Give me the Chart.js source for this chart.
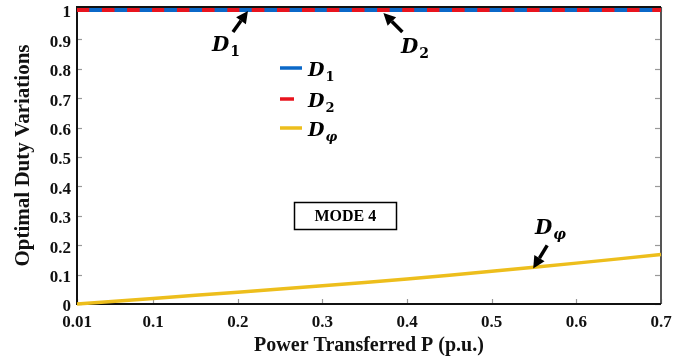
<!DOCTYPE html>
<html>
<head>
<meta charset="utf-8">
<script src="https://cdn.jsdelivr.net/npm/chart.js@4/dist/chart.umd.min.js"></script>
<style>
  html, body { margin: 0; padding: 0; background: #fff; }
  #wrap { width: 687px; height: 358px; }
</style>
</head>
<body>
<div id="wrap"><canvas id="dutyChart" width="687" height="358"></canvas></div>
<script>
// --- Data ---
const powerP = [0.01, 0.1, 0.2, 0.3, 0.4, 0.5, 0.6, 0.7];
const dutyD1 = [1, 1, 1, 1, 1, 1, 1, 1];
const dutyD2 = [1, 1, 1, 1, 1, 1, 1, 1];
const dutyDphi = [0, 0.019, 0.04, 0.062, 0.085, 0.111, 0.139, 0.168];
const xTickValues = [0.01, 0.1, 0.2, 0.3, 0.4, 0.5, 0.6, 0.7];
const yTickValues = [0, 0.1, 0.2, 0.3, 0.4, 0.5, 0.6, 0.7, 0.8, 0.9, 1];

const SERIF = '"Liberation Serif", "Times New Roman", serif';
const MATH = '"DejaVu Serif", serif';

const toPoints = (xs, ys) => xs.map((x, i) => ({ x, y: ys[i] }));

// D with a subscript, the way the figure labels the duties
function drawSubLabel(ctx, x, y, main, sub, size, subItalic) {
  ctx.textAlign = 'left';
  ctx.textBaseline = 'alphabetic';
  ctx.font = `italic bold ${size}px ${MATH}`;
  ctx.fillText(main, x, y);
  const w = ctx.measureText(main).width;
  ctx.font = `${subItalic ? 'italic ' : ''}bold ${Math.round(size * 0.68)}px ${MATH}`;
  ctx.fillText(sub, x + w + 1, y + size * 0.25);
}

function drawArrow(ctx, x0, y0, x1, y1) {
  const ang = Math.atan2(y1 - y0, x1 - x0);
  const head = 12, half = 6;
  const bx = x1 - head * Math.cos(ang), by = y1 - head * Math.sin(ang);
  ctx.strokeStyle = '#000';
  ctx.fillStyle = '#000';
  ctx.lineWidth = 3.5;
  ctx.beginPath();
  ctx.moveTo(x0, y0);
  ctx.lineTo(bx, by);
  ctx.stroke();
  ctx.beginPath();
  ctx.moveTo(x1, y1);
  ctx.lineTo(bx + half * Math.sin(ang), by - half * Math.cos(ang));
  ctx.lineTo(bx - half * Math.sin(ang), by + half * Math.cos(ang));
  ctx.closePath();
  ctx.fill();
}

// Box, inward tick marks (MATLAB style)
const framePlugin = {
  id: 'frame',
  beforeDatasetsDraw(chart) {
    const { ctx, chartArea: a, scales: { x, y } } = chart;
    ctx.save();
    ctx.lineWidth = 1.2;
    ctx.strokeStyle = '#999';
    yTickValues.forEach(v => {
      const py = Math.round(y.getPixelForValue(v)) + 0.5;
      ctx.beginPath(); ctx.moveTo(a.left, py); ctx.lineTo(a.left + 5, py); ctx.stroke();
      ctx.beginPath(); ctx.moveTo(a.right, py); ctx.lineTo(a.right - 6, py); ctx.stroke();
    });
    xTickValues.forEach(v => {
      const px = Math.round(x.getPixelForValue(v)) + 0.5;
      ctx.beginPath(); ctx.moveTo(px, a.bottom); ctx.lineTo(px, a.bottom - 5); ctx.stroke();
      ctx.beginPath(); ctx.moveTo(px, a.top); ctx.lineTo(px, a.top + 5); ctx.stroke();
    });
    ctx.lineWidth = 2;
    ctx.strokeStyle = '#555';
    ctx.beginPath(); ctx.moveTo(a.right, a.top); ctx.lineTo(a.right, a.bottom); ctx.stroke();
    ctx.strokeStyle = '#111';
    ctx.beginPath();
    ctx.moveTo(a.right, a.top); ctx.lineTo(a.left, a.top);
    ctx.lineTo(a.left, a.bottom); ctx.lineTo(a.right, a.bottom);
    ctx.stroke();
    ctx.restore();
  },
  afterDatasetsDraw(chart) {
    const { ctx, scales: { x, y } } = chart;
    const ds = chart.data.datasets;
    ctx.save();

    // legend without a box
    const legendX = 280, legendY = [68, 99, 128];
    const legendLen = [22, 14, 22];
    ds.forEach((d, i) => {
      ctx.strokeStyle = d.borderColor;
      ctx.lineWidth = 3.5;
      ctx.beginPath();
      ctx.moveTo(legendX, legendY[i]);
      ctx.lineTo(legendX + legendLen[i], legendY[i]);
      ctx.stroke();
      ctx.fillStyle = '#000';
      drawSubLabel(ctx, 308, legendY[i] + 8, 'D', d.sub, 19, d.sub === 'φ');
    });

    // pointers onto the curves
    let tx = x.getPixelForValue(0.212), ty = y.getPixelForValue(1);
    drawArrow(ctx, tx - 15, ty + 22, tx, ty + 1);
    drawSubLabel(ctx, 212, 51, 'D', '1', 20, false);

    tx = x.getPixelForValue(0.372);
    drawArrow(ctx, tx + 19, ty + 22, tx, ty + 3);
    drawSubLabel(ctx, 401, 53, 'D', '2', 20, false);

    tx = x.getPixelForValue(0.549); ty = y.getPixelForValue(0.121);
    drawArrow(ctx, tx + 14, ty - 23, tx, ty);
    drawSubLabel(ctx, 535, 234, 'D', 'φ', 20, true);

    // mode tag
    const cx = x.getPixelForValue(0.327), cy = y.getPixelForValue(0.3);
    ctx.lineWidth = 1.5;
    ctx.strokeStyle = '#000';
    ctx.strokeRect(Math.round(cx - 51) + 0.5, Math.round(cy - 14) + 0.5, 102, 27);
    ctx.fillStyle = '#000';
    ctx.font = `bold 16px ${SERIF}`;
    ctx.textAlign = 'center';
    ctx.textBaseline = 'middle';
    ctx.fillText('MODE 4', cx, cy + 1);
    ctx.restore();
  }
};

new Chart(document.getElementById('dutyChart'), {
  type: 'line',
  data: {
    datasets: [
      { label: 'D1', sub: '1', data: toPoints(powerP, dutyD1), borderColor: '#0B68C8', borderWidth: 4, order: 2 },
      { label: 'D2', sub: '2', data: toPoints(powerP, dutyD2), borderColor: '#E8141E', borderWidth: 4, borderDash: [12.5, 12.5], order: 1 },
      { label: 'Dphi', sub: 'φ', data: toPoints(powerP, dutyDphi), borderColor: '#EDBE1C', borderWidth: 3.5, order: 0 }
    ]
  },
  options: {
    responsive: false,
    animation: false,
    devicePixelRatio: 1,
    clip: false,
    elements: { point: { radius: 0 }, line: { tension: 0.3, capBezierPoints: true } },
    layout: { padding: { left: 0, right: 26, top: 7, bottom: 0 } },
    plugins: { legend: { display: false }, tooltip: { enabled: false } },
    scales: {
      x: {
        type: 'linear',
        min: 0.01,
        max: 0.7,
        afterBuildTicks: s => { s.ticks = xTickValues.map(v => ({ value: v })); },
        afterFit: s => { s.height = 54; s.paddingLeft = 0; s.paddingRight = 0; },
        grid: { display: false, drawTicks: false },
        border: { display: false },
        ticks: {
          padding: 8,
          color: '#111',
          font: { family: SERIF, size: 17, weight: 'bold' },
          maxRotation: 0,
          callback: v => (v === 0.01 ? '0.01' : v.toFixed(1))
        },
        title: {
          display: true,
          text: 'Power Transferred P (p.u.)',
          color: '#111',
          font: { family: SERIF, size: 20, weight: 'bold' },
          padding: { top: 2, bottom: 0 }
        }
      },
      y: {
        min: 0,
        max: 1.01,
        afterBuildTicks: s => { s.ticks = yTickValues.map(v => ({ value: v })); },
        afterFit: s => { s.width = 77; s.paddingTop = 0; s.paddingBottom = 0; },
        grid: { display: false, drawTicks: false },
        border: { display: false },
        ticks: {
          padding: 6,
          labelOffset: 3,
          color: '#111',
          font: { family: SERIF, size: 17, weight: 'bold' },
          callback: v => String(Math.round(v * 10) / 10)
        },
        title: {
          display: true,
          text: 'Optimal Duty Variations',
          color: '#111',
          font: { family: SERIF, size: 21, weight: 'bold' },
          padding: { top: 11, bottom: 0 }
        }
      }
    }
  },
  plugins: [framePlugin]
});
</script>
</body>
</html>
